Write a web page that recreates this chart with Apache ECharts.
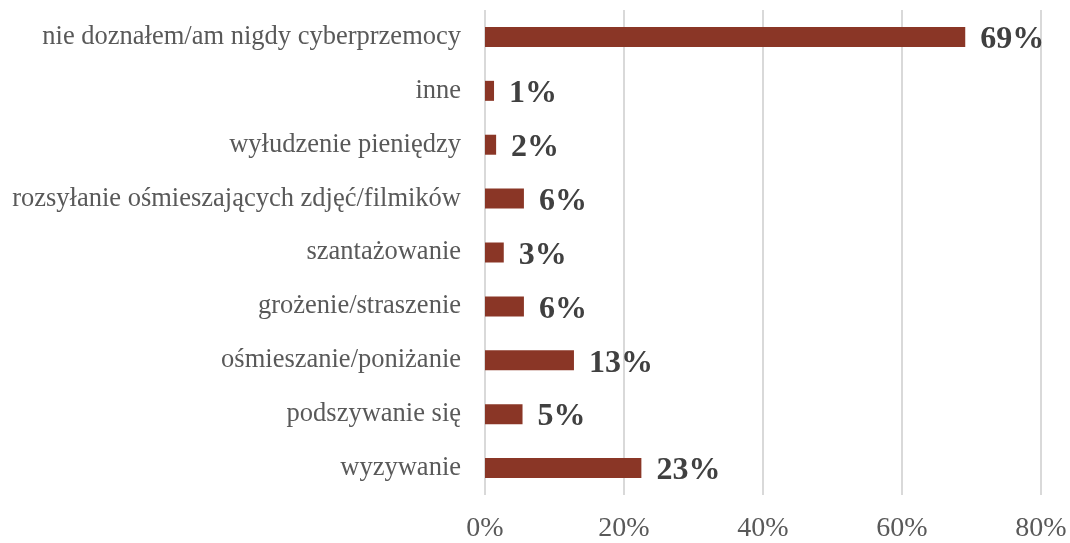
<!DOCTYPE html>
<html>
<head>
<meta charset="utf-8">
<script src="https://cdn.jsdelivr.net/npm/echarts@6/dist/echarts.min.js"></script>
<style>
  html, body { margin: 0; padding: 0; background: #ffffff; }
  #chart { width: 1070px; height: 543px; }
</style>
</head>
<body>
<div id="chart"></div>
<script>
// bottom to top, as the category axis draws them
const categories = [
  'wyzywanie',
  'podszywanie się',
  'ośmieszanie/poniżanie',
  'grożenie/straszenie',
  'szantażowanie',
  'rozsyłanie ośmieszających zdjęć/filmików',
  'wyłudzenie pieniędzy',
  'inne',
  'nie doznałem/am nigdy cyberprzemocy'
];
// bar lengths (labels show them rounded)
const values = [22.5, 5.4, 12.8, 5.6, 2.7, 5.6, 1.6, 1.3, 69.1];
const tickLabels = ['0%', '20%', '40%', '60%', '80%'];

const chart = echarts.init(document.getElementById('chart'));
chart.setOption({
  animation: false,
  grid: { left: 485, right: 29, top: 10, bottom: 47 },
  xAxis: {
    type: 'value',
    min: 0,
    max: 80,
    interval: 20,
    axisLine: { show: false },
    axisTick: { show: false },
    splitLine: { lineStyle: { color: '#d9d9d9', width: 2 } },
    axisLabel: {
      margin: 20,
      fontFamily: 'Liberation Serif',
      fontSize: 28,
      color: '#595959',
      formatter: (v) => tickLabels[v / 20]
    }
  },
  yAxis: {
    type: 'category',
    data: categories,
    axisLine: { show: false },
    axisTick: { show: false },
    axisLabel: {
      margin: 24,
      padding: [4, 0, 0, 0],
      fontFamily: 'Liberation Serif',
      fontSize: 26.5,
      color: '#595959'
    }
  },
  series: [{
    type: 'bar',
    data: values,
    barWidth: 20,
    itemStyle: { color: '#8a3626' },
    label: {
      show: true,
      position: 'right',
      distance: 15,
      offset: [0, 3],
      fontFamily: 'Liberation Serif',
      fontWeight: 'bold',
      fontSize: 32,
      color: '#404040',
      formatter: (p) => Math.round(p.value) + '%'
    }
  }]
});
</script>
</body>
</html>
